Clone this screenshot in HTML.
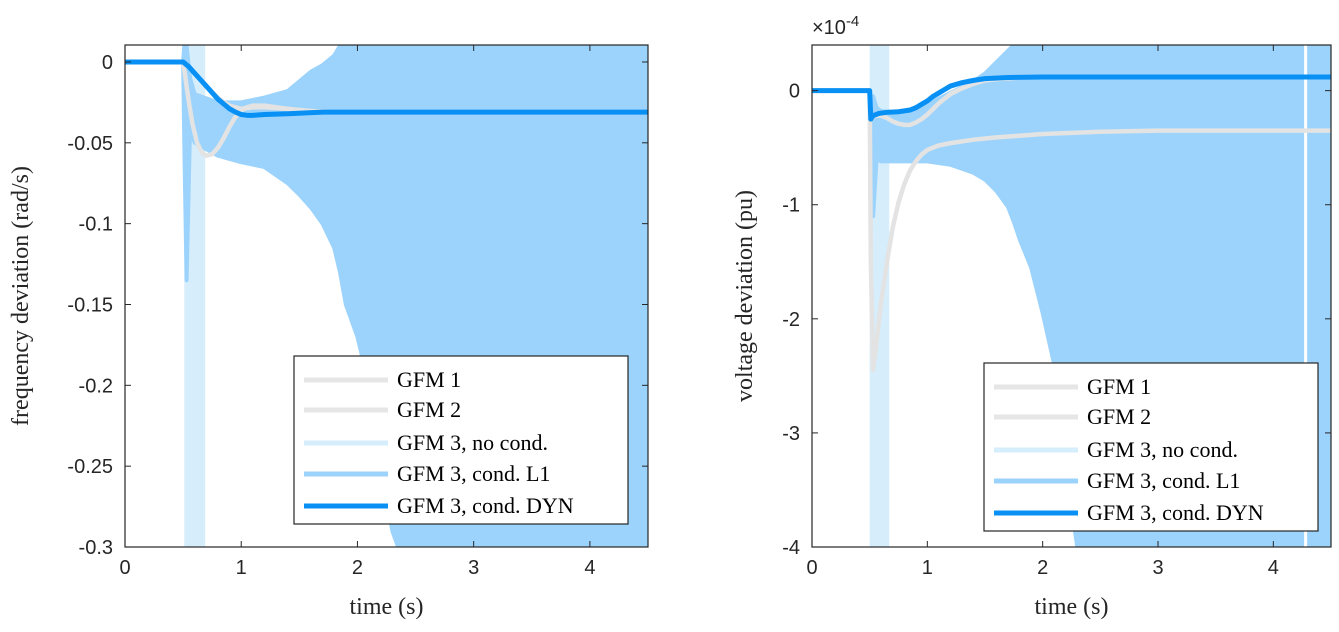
<!DOCTYPE html>
<html><head><meta charset="utf-8"><style>
body{margin:0;background:#fff;}
svg{display:block;}
.tick{font-family:"Liberation Sans",sans-serif;font-size:20px;fill:#262626;}
.lab{font-family:"Liberation Serif",serif;font-size:24px;fill:#262626;}
.leg{font-family:"Liberation Serif",serif;font-size:22px;fill:#000;}
</style></head><body>
<svg id="chart" width="1339" height="632"></svg>
<script>
// ---------- data: left (frequency deviation, rad/s) ----------
const xTicks = [0,1,2,3,4];
const xTickLabels = ["0","1","2","3","4"];
const leftYTicks = [0,-0.05,-0.1,-0.15,-0.2,-0.25,-0.3];
const leftYTickLabels = ["0","-0.05","-0.1","-0.15","-0.2","-0.25","-0.3"];
const rightYTicks = [0,-1,-2,-3,-4];
const rightYTickLabels = ["0","-1","-2","-3","-4"];

const lT_g1 = [0,0.5,0.52,0.55,0.58,0.62,0.66,0.7,0.75,0.8,0.85,0.9,0.95,1.0,1.05,1.1,1.2,1.3,1.5,1.8,2.2,4.5];
const lV_g1 = [0,0,-0.01,-0.025,-0.038,-0.05,-0.056,-0.058,-0.057,-0.053,-0.047,-0.04,-0.034,-0.03,-0.028,-0.027,-0.027,-0.028,-0.03,-0.031,-0.031,-0.031];
const lT_g2 = [0,0.5,0.55,0.6,0.65,0.7,0.75,0.8,0.85,0.9,0.95,1.0,1.1,1.2,1.4,1.7,4.5];
const lV_g2 = [0,0,-0.003,-0.007,-0.011,-0.015,-0.019,-0.022,-0.025,-0.027,-0.028,-0.029,-0.028,-0.028,-0.029,-0.031,-0.031];
const lT_dyn = [0,0.5,0.55,0.6,0.65,0.7,0.75,0.8,0.85,0.9,0.95,1.0,1.05,1.1,1.2,1.4,1.7,2,4.5];
const lV_dyn = [0,0,-0.003,-0.007,-0.011,-0.015,-0.019,-0.023,-0.026,-0.029,-0.031,-0.0325,-0.033,-0.033,-0.0325,-0.032,-0.031,-0.031,-0.031];
const lT_l1 = [0.5,0.51,0.53,0.56,0.6,0.8,1.0,1.2,1.4,1.5,1.6,1.7,1.8,1.85,1.9,2.0,2.1,2.2,2.3,2.35,4.5];
const lU_l1 = [0,0.01,0.01,-0.01,-0.02,-0.025,-0.025,-0.022,-0.018,-0.012,-0.006,-0.002,0.004,0.01,0.01,0.01,0.01,0.01,0.01,0.01,0.01];
const lL_l1 = [0,-0.05,-0.135,-0.04,-0.05,-0.058,-0.062,-0.065,-0.075,-0.082,-0.09,-0.1,-0.115,-0.13,-0.15,-0.17,-0.2,-0.25,-0.29,-0.3,-0.3];
const lNoCond = [0.51,0.69];

// ---------- data: right (voltage deviation, 1e-4 pu) ----------
const rT_g1 = [0,0.5,0.51,0.55,0.6,0.65,0.7,0.75,0.8,0.85,0.9,0.95,1.0,1.05,1.1,1.15,1.2,1.3,1.4,1.5,1.6,1.8,2,4.5];
const rV_g1 = [0,0,-0.25,-0.22,-0.22,-0.24,-0.27,-0.29,-0.3,-0.3,-0.28,-0.25,-0.21,-0.16,-0.11,-0.07,-0.03,0.02,0.06,0.09,0.1,0.115,0.12,0.12];
const rT_g2 = [0,0.5,0.51,0.53,0.56,0.6,0.65,0.7,0.75,0.8,0.85,0.9,0.95,1.0,1.1,1.2,1.4,1.6,2,2.5,3,4.5];
const rV_g2 = [0,0,-1.5,-2.45,-2.2,-1.85,-1.5,-1.2,-0.98,-0.82,-0.7,-0.62,-0.56,-0.52,-0.48,-0.46,-0.43,-0.41,-0.38,-0.36,-0.35,-0.35];
const rT_dyn = [0,0.5,0.51,0.53,0.58,0.65,0.75,0.85,0.9,0.95,1.0,1.05,1.1,1.15,1.2,1.3,1.4,1.5,1.7,2,4.5];
const rV_dyn = [0,0,-0.25,-0.22,-0.2,-0.19,-0.185,-0.17,-0.15,-0.12,-0.09,-0.05,-0.02,0.01,0.04,0.07,0.09,0.105,0.115,0.12,0.12];
const rT_l1 = [0.5,0.51,0.53,0.56,0.6,0.8,1.0,1.2,1.4,1.5,1.6,1.7,1.75,1.8,1.9,2.0,2.1,2.2,2.3,4.5];
const rU_l1 = [0,-0.1,-0.05,-0.15,-0.18,-0.2,-0.12,-0.02,0.08,0.15,0.25,0.35,0.4,0.4,0.4,0.4,0.4,0.4,0.4,0.4];
const rL_l1 = [0,-0.9,-1.1,-0.6,-0.62,-0.62,-0.62,-0.65,-0.72,-0.78,-0.88,-1.02,-1.15,-1.3,-1.55,-1.95,-2.4,-3.3,-4,-4];
const rNoCond = [0.5,0.67];
const rGaps = [4.28];

const legendLabels = ["GFM 1","GFM 2","GFM 3, no cond.","GFM 3, cond. L1","GFM 3, cond. DYN"];
const legendColors = ["#e6e6e6","#e6e6e6","#d6eefc","#9cd3fc","#0890f5"];
const legendWidths = [5,5,5,5,5];

const NS="http://www.w3.org/2000/svg";
const svg=document.getElementById('chart');
function mk(tag,attrs,parent){const e=document.createElementNS(NS,tag);for(const k in attrs)e.setAttribute(k,attrs[k]);(parent||svg).appendChild(e);return e;}

function panel(cfg){
  const g=mk('g',{});
  
  
  const sx=t=>cfg.x0+(t-0)/(4.5-0)*(cfg.x1-cfg.x0);
  const sy=v=>cfg.y0+(cfg.ymax-v)/(cfg.ymax-cfg.ymin)*(cfg.y1-cfg.y0);
  const clip='clip-'+cfg.name;
  const cp=mk('clipPath',{id:clip},g);mk('rect',{x:cfg.x0,y:cfg.y0,width:cfg.x1-cfg.x0,height:cfg.y1-cfg.y0},cp);
  const plot=mk('g',{'clip-path':'url(#'+clip+')'},g);
  const nb=mk('rect',{x:sx(cfg.noCond[0]),y:cfg.y0,width:sx(cfg.noCond[1])-sx(cfg.noCond[0]),height:cfg.y1-cfg.y0,fill:'#d6eefc'},plot);
  
  
  let d='M'+cfg.l1T.map((t,i)=>sx(t)+','+sy(cfg.l1U[i])).join('L');
  for(let i=cfg.l1T.length-1;i>=0;i--)d+='L'+sx(cfg.l1T[i])+','+sy(cfg.l1L[i]);
  d+='Z';
  const l1=mk('path',{d:d,fill:'#9cd3fc',stroke:'#9cd3fc','stroke-width':4,'stroke-linejoin':'round'},plot);
  
  
  (cfg.gaps||[]).forEach(t=>{const gl=mk('line',{x1:sx(t),x2:sx(t),y1:cfg.y0,y2:cfg.y1,stroke:'#fff','stroke-width':3},plot);
    
    });
  const line=(T,V,col,w,name)=>{const p=mk('polyline',{points:T.map((t,i)=>sx(t)+','+sy(V[i])).join(' '),fill:'none',stroke:col,'stroke-width':w,'stroke-linejoin':'round','stroke-linecap':'round'},plot);
    
    };
  line(cfg.g1T,cfg.g1V,'#e3e3e3',4.5,'series-gfm1');
  line(cfg.g2T,cfg.g2V,'#e3e3e3',4.5,'series-gfm2');
  line(cfg.dT,cfg.dV,'#0890f5',5,'series-gfm3-cond-dyn');
  const box=mk('rect',{x:cfg.x0,y:cfg.y0,width:cfg.x1-cfg.x0,height:cfg.y1-cfg.y0,fill:'none',stroke:'#262626','stroke-width':1.2},g);
  
  
  xTicks.forEach((t,i)=>{const x=sx(t);
    mk('line',{x1:x,x2:x,y1:cfg.y1,y2:cfg.y1-6,stroke:'#262626'},g);
    mk('line',{x1:x,x2:x,y1:cfg.y0,y2:cfg.y0+6,stroke:'#262626'},g);
    const tx=mk('text',{x:x,y:cfg.y1+27,'text-anchor':'middle',class:'tick'},g);tx.textContent=xTickLabels[i];
    
    });
  cfg.yt.forEach((v,i)=>{const y=sy(v);
    mk('line',{x1:cfg.x0,x2:cfg.x0+6,y1:y,y2:y,stroke:'#262626'},g);
    mk('line',{x1:cfg.x1,x2:cfg.x1-6,y1:y,y2:y,stroke:'#262626'},g);
    const tx=mk('text',{x:cfg.x0-12,y:y+7,'text-anchor':'end',class:'tick'},g);tx.textContent=cfg.ytl[i];
    
    });
  const xl=mk('text',{x:(cfg.x0+cfg.x1)/2,y:cfg.y1+67,'text-anchor':'middle',class:'lab'},g);xl.textContent='time (s)';
  
  
  const yl=mk('text',{x:0,y:0,'text-anchor':'middle',class:'lab',transform:'translate('+cfg.ylx+','+(cfg.y0+cfg.y1)/2+') rotate(-90)'},g);yl.textContent=cfg.ylab;
  
  
  const lg=mk('g',{},g);
  
  
  mk('rect',{x:cfg.lx,y:cfg.ly,width:334,height:168,fill:'#fff',stroke:'#262626','stroke-width':1.2},lg);
  const offs=[24,54,87,118,150];
  legendLabels.forEach((s,i)=>{const y=cfg.ly+offs[i];
    const ln=mk('line',{x1:cfg.lx+10,x2:cfg.lx+94,y1:y,y2:y,stroke:legendColors[i],'stroke-width':legendWidths[i]},lg);
    
    
    const t=mk('text',{x:cfg.lx+103,y:y+7,class:'leg'},lg);t.textContent=s;
    
    });
  return g;
}
panel({name:'frequency-panel',x0:125,x1:648,y0:45,y1:547,ymax:0.0105,ymin:-0.3,yt:leftYTicks,ytl:leftYTickLabels,
  ylab:'frequency deviation (rad/s)',ylx:28,lx:294,ly:356,noCond:lNoCond,l1T:lT_l1,l1U:lU_l1,l1L:lL_l1,
  g1T:lT_g1,g1V:lV_g1,g2T:lT_g2,g2V:lV_g2,dT:lT_dyn,dV:lV_dyn});
panel({name:'voltage-panel',x0:812,x1:1331,y0:45,y1:547,ymax:0.4,ymin:-4,yt:rightYTicks,ytl:rightYTickLabels,
  ylab:'voltage deviation (pu)',ylx:752,lx:984,ly:363,noCond:rNoCond,l1T:rT_l1,l1U:rU_l1,l1L:rL_l1,gaps:rGaps,
  g1T:rT_g1,g1V:rV_g1,g2T:rT_g2,g2V:rV_g2,dT:rT_dyn,dV:rV_dyn});
const ex=mk('text',{x:812,y:34,class:'tick'});


ex.innerHTML='×10<tspan dy="-8" font-size="15">-4</tspan>';
</script>
</body></html>
